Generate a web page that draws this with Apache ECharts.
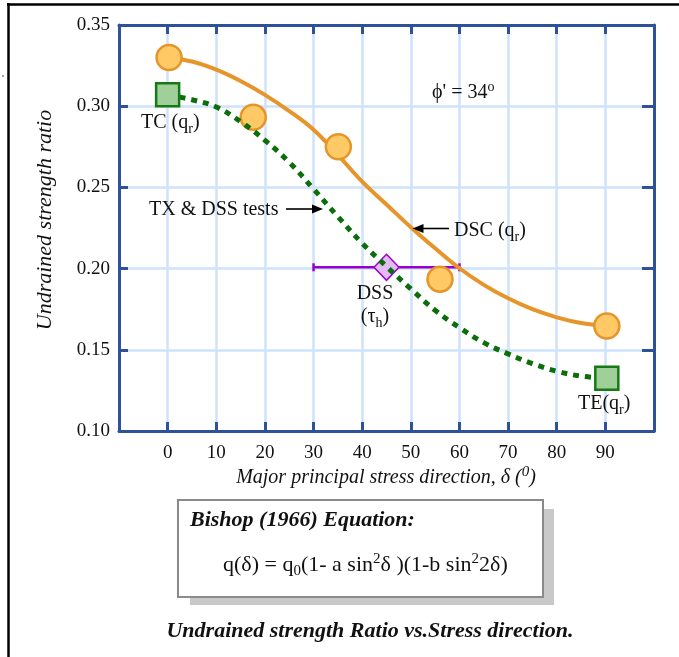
<!DOCTYPE html>
<html><head><meta charset="utf-8">
<script src="https://cdn.jsdelivr.net/npm/echarts@6/dist/echarts.min.js"></script>
<style>html,body{margin:0;padding:0;background:#fff}#c{width:679px;height:657px}</style>
</head><body><div id="c"></div>
<script>
// ---- data ----
const xTickLabels = ['0','10','20','30','40','50','60','70','80','90'];
const yTickLabels = ['0.10','0.15','0.20','0.25','0.30','0.35'];
// DSC fitted curve (orange)
const dscCurveX = [0,5,10,15,20,25,30,35,40,45,50,55,60,65,70,75,80,85,90];
const dscCurveY = [0.330,0.3275,0.3225,0.3155,0.307,0.297,0.2855,0.270,0.2535,0.2395,0.2255,0.2125,0.2002,0.190,0.1817,0.175,0.170,0.1665,0.1647];
// DSC test points (orange circles)
const dscTestX = [0.3,17.6,35.1,56,90.3];
const dscTestY = [0.330,0.2932,0.275,0.1935,0.1647];
// TX & DSS curve (green dotted)
const txCurveX = [0,5,10,15,20,25,30,35,40,45,50,55,60,65,70,75,80,85,90];
const txCurveY = [0.307,0.304,0.2995,0.2905,0.279,0.2655,0.249,0.232,0.2156,0.2013,0.1875,0.1743,0.1637,0.1544,0.1475,0.1415,0.1368,0.1338,0.1325];
// TC / TE test points (green squares)
const txTestX = [0,90.3];
const txTestY = [0.307,0.1325];
// DSS point and range
const dssX = [45];
const dssY = [0.2008];
const dssRangeX = [30,60];

// ---- chart ----
const F = '"Liberation Serif","Times New Roman",serif';
const AX = '#2f5199';
const GRID = '#cfe2fc';
const chart = echarts.init(document.getElementById('c'), null, {renderer:'canvas'});

const zip = (xs, ys) => xs.map((x,i)=>[x, ys[i]]);
const dssLine = dssRangeX.map(x => [x, dssY[0]]);

function tok(size, extra){ return Object.assign({fontFamily:F, fontSize:size, fill:'#111', verticalAlign:'middle'}, extra||{}); }
const richN = {
  n: tok(20),
  s: tok(14, {padding:[13,0,0,0]}),
  p: tok(14, {padding:[0,0,12,0]})
};
const richI = {
  n: tok(20, {fontStyle:'italic'}),
  p: tok(15, {fontStyle:'italic', padding:[0,0,12,0]})
};
const richEq = {
  n: tok(22),
  s: tok(15, {padding:[12,0,0,0]}),
  p: tok(15, {padding:[0,0,12,0]})
};

function txt(x, y, text, rich, align, extra){
  return Object.assign({type:'text', z:100, style:{x:x, y:y, text:text, rich:rich, textAlign:align||'left', textVerticalAlign:'middle'}}, extra||{});
}
function arrow(x1, y, x2){
  const dir = x2 > x1 ? 1 : -1;
  return [
    {type:'line', z:100, shape:{x1:x1, y1:y, x2:x2 - dir*9, y2:y}, style:{stroke:'#000', lineWidth:1.6}},
    {type:'polygon', z:100, shape:{points:[[x2,y],[x2-dir*11,y-4.5],[x2-dir*11,y+4.5]]}, style:{fill:'#000'}}
  ];
}

const xAxisBase = {
  type:'value', min:-10, max:100, interval:10,
  axisLine:{show:true, onZero:false, lineStyle:{color:AX, width:3}},
  axisTick:{show:true, inside:true, length:9, lineStyle:{color:AX, width:3}},
};
const yAxisBase = {
  type:'value', min:0.10, max:0.35, interval:0.05,
  axisLine:{show:true, onZero:false, lineStyle:{color:AX, width:3}},
  axisTick:{show:true, inside:true, length:9, lineStyle:{color:AX, width:3}},
};

const option = {
  backgroundColor:'#fff',
  animation:false,
  grid:{left:119, top:25, width:535, height:406, containLabel:false},
  xAxis:[
    Object.assign({}, xAxisBase, {
      position:'bottom',
      axisLabel:{show:true, margin:13, fontFamily:F, fontSize:19, color:'#111',
        formatter: v => { const i = Math.round(v/10); return (i>=0 && i<xTickLabels.length) ? xTickLabels[i] : ''; }},
      splitLine:{show:true, lineStyle:{color:GRID, width:2.5}}
    }),
    Object.assign({}, xAxisBase, {position:'top', axisLabel:{show:false}, splitLine:{show:false}})
  ],
  yAxis:[
    Object.assign({}, yAxisBase, {
      position:'left',
      axisLabel:{show:true, margin:9, fontFamily:F, fontSize:19, color:'#111',
        formatter: v => { const i = Math.round((v-0.10)/0.05); return yTickLabels[i] || ''; }},
      splitLine:{show:true, lineStyle:{color:GRID, width:2.5}}
    }),
    Object.assign({}, yAxisBase, {position:'right', axisTick:{show:true, inside:true, length:12, lineStyle:{color:AX, width:3}}, axisLabel:{show:false}, splitLine:{show:false}})
  ],
  series:[
    {type:'line', data:dssLine, showSymbol:false, symbol:'none', lineStyle:{color:'#9a00cc', width:2.5}, z:2},
    {type:'scatter', data:dssLine, symbol:'rect', symbolSize:[2.5,8], itemStyle:{color:'#9a00cc', opacity:1}, z:2},
    {type:'scatter', data:zip(dssX, dssY), symbol:'diamond', symbolSize:[25,26], itemStyle:{color:'#e2bbf3', borderColor:'#9a00cc', borderWidth:1.5, opacity:1}, z:3},
    {type:'line', data:zip(dscCurveX, dscCurveY), smooth:0.4, showSymbol:false, symbol:'none', lineStyle:{color:'#e5952a', width:4}, z:4},
    {type:'scatter', data:zip(dscTestX, dscTestY), symbol:'circle', symbolSize:25, itemStyle:{color:'#ffc966', borderColor:'#e5952a', borderWidth:2.5, opacity:1}, z:5},
    {type:'line', data:zip(txCurveX, txCurveY), smooth:0.4, showSymbol:false, symbol:'none', lineStyle:{color:'#0b6e0b', width:5, type:[6,6]}, z:6},
    {type:'scatter', data:zip(txTestX, txTestY), symbol:'rect', symbolSize:23, itemStyle:{color:'#a0cf99', borderColor:'#157a15', borderWidth:2.5, opacity:1}, z:7}
  ],
  graphic:[].concat(
    [
      {type:'line', shape:{x1:7, y1:4.5, x2:679, y2:4.5}, style:{stroke:'#000', lineWidth:2.5}},
      {type:'line', shape:{x1:8.5, y1:3, x2:8.5, y2:657}, style:{stroke:'#000', lineWidth:2.5}},
      {type:'circle', shape:{cx:3, cy:76, r:1.2}, style:{fill:'#aaa'}},
      // axis names
      {type:'text', z:100, x:45, y:220, rotation:Math.PI/2,
        style:{x:0, y:0, text:'{n|Undrained strength ratio}', rich:{n: tok(22, {fontStyle:'italic'})}, textAlign:'center', textVerticalAlign:'middle'}},
      txt(386, 478, '{n|Major principal stress direction, δ (}{p|0}{n|)}', richI, 'center'),
      // annotations
      txt(432, 93, '{n|ϕ\' = 34}{p|o}', richN, 'left'),
      txt(141, 123, '{n|TC (q}{s|r}{n|)}', richN, 'left'),
      txt(149, 209.5, '{n|TX & DSS tests}', richN, 'left'),
      txt(454, 231, '{n|DSC (q}{s|r}{n|)}', richN, 'left'),
      txt(375, 293.5, '{n|DSS}', richN, 'center'),
      txt(375, 317, '{n|(τ}{s|h}{n|)}', richN, 'center'),
      txt(578, 403.5, '{n|TE(q}{s|r}{n|)}', richN, 'left'),
      // equation box
      {type:'rect', shape:{x:190, y:509, width:364, height:96}, style:{fill:'#c9c9c9'}},
      {type:'rect', shape:{x:178, y:500, width:365, height:97}, style:{fill:'#fff', stroke:'#8a8a8a', lineWidth:2}},
      txt(190, 520, '{n|Bishop (1966) Equation:}', {n: tok(22, {fontStyle:'italic', fontWeight:'bold'})}, 'left'),
      txt(223, 565, '{n|q(δ) = q}{s|0}{n|(1- a sin}{p|2}{n|δ )(1-b sin}{p|2}{n|2δ)}', richEq, 'left'),
      txt(370, 631, '{n|Undrained strength Ratio vs.Stress direction.}', {n: tok(22, {fontStyle:'italic', fontWeight:'bold'})}, 'center')
    ],
    arrow(286, 209, 323),
    arrow(449, 228.5, 412.5)
  )
};
chart.setOption(option);
</script></body></html>
